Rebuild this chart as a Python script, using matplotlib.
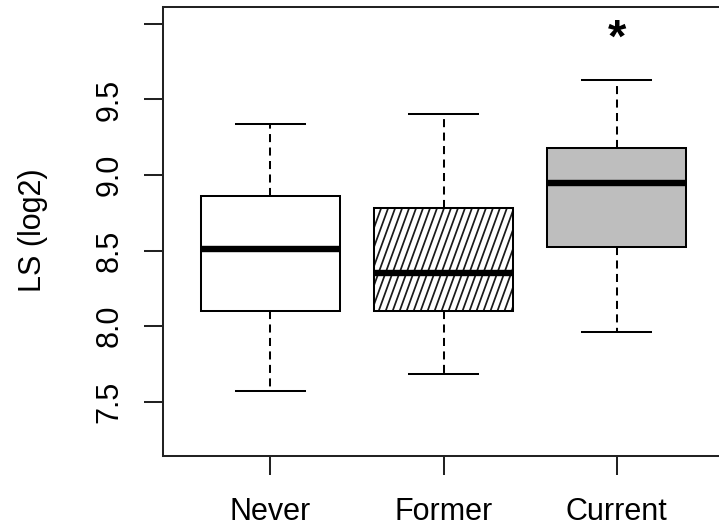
import numpy as np
import matplotlib
matplotlib.use("Agg")
import matplotlib.pyplot as plt

plt.rcParams['font.family'] = ['Liberation Sans', 'DejaVu Sans']
plt.rcParams['lines.scale_dashes'] = False

#____Data
groups = ["Never", "Former", "Current"]
whis_lo = [7.568, 7.685, 7.964]
q1 = [8.097, 8.103, 8.526]
medians = [8.509, 8.351, 8.945]
q3 = [8.863, 8.782, 9.180]
whis_hi = [9.339, 9.403, 9.630]
box_colors = ["white", "white", "#bebebe"]
hatched = [False, True, False]
y_ticks = [7.5, 8.0, 8.5, 9.0, 9.5, 10.0]
y_ticklabels = ["7.5", "8.0", "8.5", "9.0", "9.5", ""]
star_group = 3
star_y = 9.895

W, H = 719, 532
fig = plt.figure(figsize=(W / 100, H / 100), dpi=100)
# axes box: left 163px, top 7px, bottom 456px, right runs past the image edge
ax = fig.add_axes([163 / W, 1 - 456 / H, 561 / W, (456 - 7.3) / H])

positions = np.arange(1, len(groups) + 1)
stats = []
for i in range(len(groups)):
    stats.append(dict(whislo=whis_lo[i], q1=q1[i], med=medians[i],
                      q3=q3[i], whishi=whis_hi[i], fliers=[], label=groups[i]))

lw = 1.45
bp = ax.bxp(stats, positions=positions, widths=0.8, patch_artist=True,
            showfliers=False,
            boxprops=dict(linewidth=lw, edgecolor="black"),
            whiskerprops=dict(linewidth=lw, color="black", linestyle=(0, (5.8, 3.9))),
            capprops=dict(linewidth=lw, color="black"),
            medianprops=dict(linewidth=4.6, color="black", solid_capstyle="butt"),
            capwidths=0.4)

for patch, col in zip(bp["boxes"], box_colors):
    patch.set_facecolor(col)

# steep R-style shading lines for the hatched box
pix_per_x = 173.5
pix_per_y = 151.3
angle = np.deg2rad(70)
step_px = 7.0
for i, h in enumerate(hatched):
    if not h:
        continue
    x0, x1 = positions[i] - 0.4, positions[i] + 0.4
    y0, y1 = q1[i], q3[i]
    hgt_px = (y1 - y0) * pix_per_y
    shift = hgt_px / np.tan(angle) / pix_per_x
    starts = np.arange(x0 - shift, x1 + step_px / pix_per_x, step_px / pix_per_x)
    for s in starts:
        ln, = ax.plot([s, s + shift], [y0, y1], color="#1a1a1a", lw=1.25,
                      solid_capstyle="butt", zorder=2.5)
        ln.set_clip_path(bp["boxes"][i])
    # redraw edges and median on top
    bp["boxes"][i].set_zorder(2)
    ax.add_patch(plt.Rectangle((x0, y0), 0.8, y1 - y0, fill=False,
                               edgecolor="black", lw=lw, zorder=3))
for m in bp["medians"]:
    m.set_zorder(4)

ax.text(star_group, star_y, "*", ha="center", va="center",
        fontsize=34, fontweight="bold")

ax.set_xlim(0.38, 3.62)
ax.set_ylim(7.14, 10.11)
ax.set_xticks(positions)
ax.set_xticklabels(groups)
ax.set_yticks(y_ticks)
ax.set_yticklabels(y_ticklabels, rotation=90, va="center")

for sp in ax.spines.values():
    sp.set_linewidth(1.45)
    sp.set_color("#222222")
ax.tick_params(axis="both", length=13.7, width=1.45, color="#222222",
               labelsize=22, labelcolor="black")
ax.tick_params(axis="y", pad=14)
ax.tick_params(axis="x", pad=16)

fig.text(33 / W, 1 - 230 / H, "LS (log2)", rotation=90, ha="center",
         va="center", fontsize=22)

fig.savefig("out.png", dpi=100)
